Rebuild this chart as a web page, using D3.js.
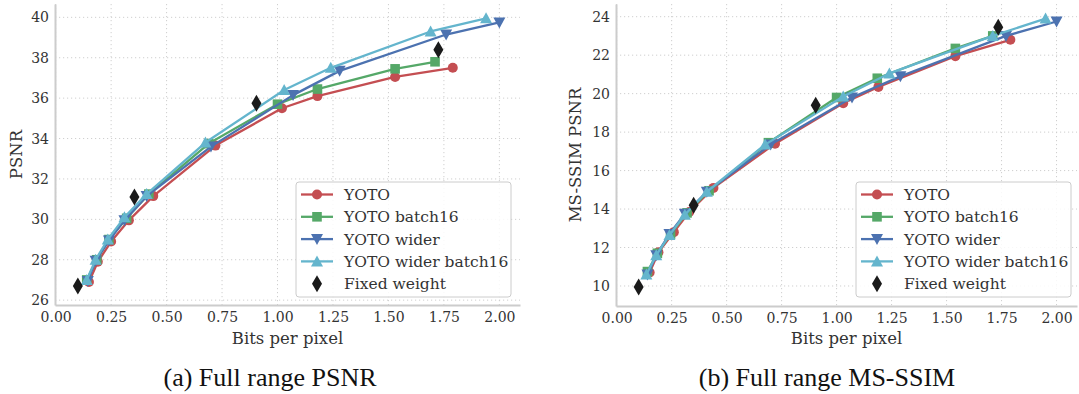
<!DOCTYPE html>
<html>
<head>
<meta charset="utf-8">
<script src="https://cdn.jsdelivr.net/npm/d3@7"></script>
<style>
  body { margin: 0; background: #fff; }
  svg { display: block; }
  .tick text { font-family: 'DejaVu Serif', serif; font-size: 14px; fill: #333; }
</style>
</head>
<body>
<div id="chart"></div>
<script>
// ---- data ----
const seriesNames = ['YOTO', 'YOTO batch16', 'YOTO wider', 'YOTO wider batch16'];
const fixedName = 'Fixed weight';

const yotoBpp        = [0.15, 0.19, 0.25, 0.33, 0.44, 0.72, 1.02, 1.18, 1.53, 1.79];
const batch16Bpp     = [0.14, 0.185, 0.24, 0.32, 0.42, 0.69, 1.00, 1.18, 1.53, 1.71];
const widerBpp       = [0.145, 0.18, 0.24, 0.31, 0.41, 0.70, 1.07, 1.28, 1.76, 2.00];
const widerBatchBpp  = [0.14, 0.18, 0.235, 0.31, 0.41, 0.675, 1.03, 1.24, 1.69, 1.94];
const fixedBpp       = [0.10, 0.355, 0.905, 1.725];

const yotoPsnr       = [26.9, 27.9, 28.9, 29.95, 31.15, 33.65, 35.5, 36.1, 37.05, 37.5];
const batch16Psnr    = [27.0, 28.0, 29.0, 30.05, 31.25, 33.75, 35.7, 36.45, 37.45, 37.8];
const widerPsnr      = [26.95, 27.95, 28.95, 29.95, 31.15, 33.6, 36.15, 37.35, 39.15, 39.75];
const widerBatchPsnr = [27.0, 28.0, 29.0, 30.1, 31.25, 33.8, 36.4, 37.5, 39.3, 39.95];
const fixedPsnr      = [26.7, 31.1, 35.75, 38.4];

const ssimBppYoto       = [0.15, 0.19, 0.26, 0.33, 0.44, 0.72, 1.03, 1.19, 1.54, 1.79];
const ssimBppBatch16    = [0.14, 0.185, 0.245, 0.32, 0.42, 0.69, 1.00, 1.185, 1.54, 1.71];
const ssimBppWider      = [0.14, 0.18, 0.24, 0.31, 0.41, 0.70, 1.07, 1.29, 1.77, 2.00];
const ssimBppWiderBatch = [0.135, 0.18, 0.24, 0.31, 0.41, 0.675, 1.03, 1.24, 1.71, 1.95];
const ssimBppFixed      = [0.10, 0.35, 0.905, 1.735];

const yotoSsim       = [10.7, 11.75, 12.8, 13.85, 15.1, 17.4, 19.5, 20.35, 21.95, 22.8];
const batch16Ssim    = [10.75, 11.7, 12.7, 13.8, 14.95, 17.45, 19.8, 20.8, 22.35, 23.0];
const widerSsim      = [10.6, 11.6, 12.7, 13.75, 14.9, 17.35, 19.8, 20.9, 23.0, 23.75];
const widerBatchSsim = [10.6, 11.6, 12.65, 13.7, 14.9, 17.35, 19.85, 21.05, 23.0, 23.9];
const fixedSsim      = [9.95, 14.2, 19.4, 23.45];

const xTicks = [0, 0.25, 0.5, 0.75, 1.0, 1.25, 1.5, 1.75, 2.0];
const psnrTicks = [26, 28, 30, 32, 34, 36, 38, 40];
const ssimTicks = [10, 12, 14, 16, 18, 20, 22, 24];

const colors = ['#C44E52', '#55A868', '#4C72B0', '#64B5CD'];
const symbols = ['circle', 'square', 'down', 'up'];
const serif = "'DejaVu Serif', serif";

const W = 1079, H = 394;
const svg = d3.select('#chart').append('svg').attr('width', W).attr('height', H);

function zip(xs, ys) { return xs.map((x, i) => [x, ys[i]]); }

function marker(g, kind, x, y, color) {
  if (kind === 'circle') {
    g.append('circle').attr('cx', x).attr('cy', y).attr('r', 5).attr('fill', color);
  } else if (kind === 'square') {
    g.append('rect').attr('x', x - 4.8).attr('y', y - 4.8).attr('width', 9.6).attr('height', 9.6).attr('fill', color);
  } else if (kind === 'down') {
    g.append('path').attr('d', `M${x - 6},${y - 5}L${x + 6},${y - 5}L${x},${y + 6}Z`).attr('fill', color);
  } else if (kind === 'up') {
    g.append('path').attr('d', `M${x - 6},${y + 5}L${x + 6},${y + 5}L${x},${y - 6}Z`).attr('fill', color);
  } else if (kind === 'diamond') {
    g.append('path').attr('d', `M${x},${y - 8.5}L${x + 5},${y}L${x},${y + 8.5}L${x - 5},${y}Z`).attr('fill', color);
  }
}

function drawPanel(opt) {
  const x = d3.scaleLinear().domain([-0.003, 2.093]).range([opt.left, opt.right]);
  const y = d3.scaleLinear().domain(opt.yDomain).range([opt.bottom, opt.top]);
  const g = svg.append('g');

  // grid
  g.append('g').selectAll('line').data(xTicks).join('line')
    .attr('x1', d => x(d)).attr('x2', d => x(d))
    .attr('y1', opt.top).attr('y2', opt.bottom)
    .attr('stroke', '#cfcfcf').attr('stroke-width', 1).attr('stroke-dasharray', '1.2,2.8');
  g.append('g').selectAll('line').data(opt.yTicks).join('line')
    .attr('x1', opt.left).attr('x2', opt.right)
    .attr('y1', d => y(d)).attr('y2', d => y(d))
    .attr('stroke', '#cfcfcf').attr('stroke-width', 1).attr('stroke-dasharray', '1.2,2.8');

  // axes
  const xAxis = g.append('g').attr('transform', `translate(0,${opt.bottom})`)
    .call(d3.axisBottom(x).tickValues(xTicks).tickFormat(d3.format('.2f')).tickSize(0).tickPadding(7));
  const yAxis = g.append('g').attr('transform', `translate(${opt.left},0)`)
    .call(d3.axisLeft(y).tickValues(opt.yTicks).tickSize(0).tickPadding(6));
  [xAxis, yAxis].forEach(a => {
    a.attr('font-family', serif);
    a.select('.domain').attr('stroke', '#cccccc').attr('stroke-width', 2);
  });

  g.append('text').attr('x', (opt.left + opt.right) / 2).attr('y', 344)
    .attr('text-anchor', 'middle').attr('font-family', serif).attr('font-size', 16.5).attr('fill', '#333')
    .text('Bits per pixel');
  g.append('text').attr('transform', `translate(${opt.yLabelX},${(opt.top + opt.bottom) / 2}) rotate(-90)`)
    .attr('text-anchor', 'middle').attr('font-family', serif).attr('font-size', 16.5).attr('fill', '#333')
    .text(opt.yLabel);

  // series
  const line = d3.line().x(d => x(d[0])).y(d => y(d[1]));
  opt.series.forEach((s, i) => {
    const pts = zip(s[0], s[1]);
    g.append('path').attr('d', line(pts)).attr('fill', 'none')
      .attr('stroke', colors[i]).attr('stroke-width', 2.3).attr('stroke-linejoin', 'round');
    pts.forEach(p => marker(g, symbols[i], x(p[0]), y(p[1]), colors[i]));
  });
  zip(opt.fixed[0], opt.fixed[1]).forEach(p => marker(g, 'diamond', x(p[0]), y(p[1]), '#1a1a1a'));

  // legend
  const lg = g.append('g').attr('transform', `translate(${opt.legendX},182)`);
  lg.append('rect').attr('width', 215).attr('height', 115).attr('rx', 3)
    .attr('fill', 'rgba(255,255,255,0.85)').attr('stroke', '#cccccc').attr('stroke-width', 1);
  const names = seriesNames.concat([fixedName]);
  names.forEach((n, i) => {
    const yy = 12.5 + i * 22.3;
    if (i < 4) {
      lg.append('line').attr('x1', 5).attr('x2', 37).attr('y1', yy).attr('y2', yy)
        .attr('stroke', colors[i]).attr('stroke-width', 2.3);
      marker(lg, symbols[i], 21, yy, colors[i]);
    } else {
      marker(lg, 'diamond', 21, yy, '#1a1a1a');
    }
    lg.append('text').attr('x', 48).attr('y', yy + 5.5)
      .attr('font-family', serif).attr('font-size', 15.5).attr('fill', '#333').text(n);
  });

  svg.append('text').attr('x', opt.captionX).attr('y', 386).attr('text-anchor', 'middle')
    .attr('font-family', "'Liberation Serif', 'Times New Roman', serif").attr('font-size', 26).attr('fill', '#111')
    .text(opt.caption);
}

drawPanel({
  left: 55, right: 520, top: 4, bottom: 305,
  yDomain: [25.76, 40.66], yTicks: psnrTicks, yLabel: 'PSNR', yLabelX: 22,
  series: [[yotoBpp, yotoPsnr], [batch16Bpp, batch16Psnr], [widerBpp, widerPsnr], [widerBatchBpp, widerBatchPsnr]],
  fixed: [fixedBpp, fixedPsnr],
  legendX: 296, caption: '(a) Full range PSNR', captionX: 270
});

drawPanel({
  left: 616, right: 1077, top: 4, bottom: 306,
  yDomain: [8.96, 24.66], yTicks: ssimTicks, yLabel: 'MS-SSIM PSNR', yLabelX: 581,
  series: [[ssimBppYoto, yotoSsim], [ssimBppBatch16, batch16Ssim], [ssimBppWider, widerSsim], [ssimBppWiderBatch, widerBatchSsim]],
  fixed: [ssimBppFixed, fixedSsim],
  legendX: 856, caption: '(b) Full range MS-SSIM', captionX: 827
});
</script>
</body>
</html>
